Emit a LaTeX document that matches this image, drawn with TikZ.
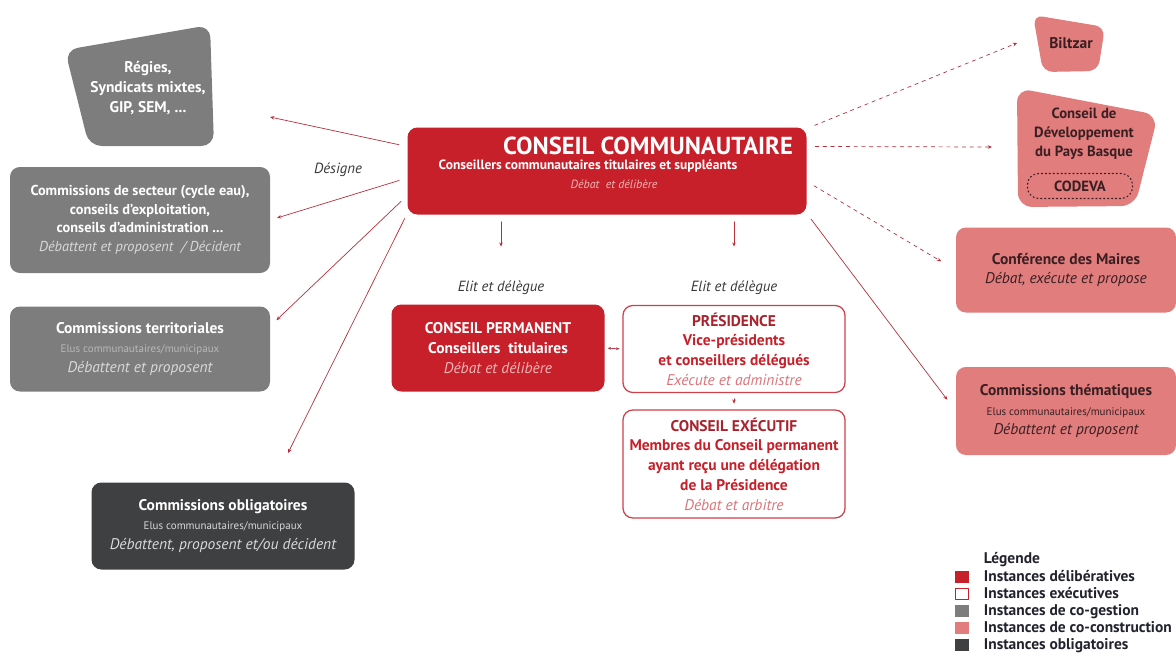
\documentclass[tikz,border=0pt]{standalone}
\usepackage{fontspec}
\setmainfont{PT Sans}
\usetikzlibrary{arrows.meta}
\definecolor{rouge}{HTML}{C7202A}
\definecolor{rougefonce}{HTML}{A8232D}
\definecolor{rougeclair}{HTML}{DB7479}
\definecolor{gris}{HTML}{7D7D7D}
\definecolor{grisclair}{HTML}{D9D9D9}
\definecolor{grisfonce}{HTML}{3F4041}
\definecolor{rose}{HTML}{E17D7D}
\definecolor{brun}{HTML}{3A1F22}
\definecolor{trait}{HTML}{B5303C}
\definecolor{encre}{HTML}{22222E}
\newcommand{\ital}[1]{{\mdseries\itshape #1}}
\newcommand{\petit}{\fontsize{7.8}{10}\selectfont\mdseries}
\begin{document}
\begin{tikzpicture}[x=0.025cm, y=-0.025cm, line join=round, line cap=round,
    font=\fontsize{11}{14}\selectfont\bfseries,
    wh/.style 2 args={minimum width=#1*0.025cm, minimum height=#2*0.025cm},
    boite/.style={rounded corners=7pt, inner sep=2pt, align=center},
    cogestion/.style={boite, fill=gris, text=white},
    coconstr/.style={boite, fill=rose, text=brun},
    delib/.style={boite, fill=rouge, text=white},
    execu/.style={boite, draw=rouge!85!white, line width=0.9pt, fill=white, text=rouge},
    lien/.style={draw=trait, line width=0.5pt, -{Stealth[length=3pt,width=2.5pt]}},
    tirets/.style={lien, dash pattern=on 2.5pt off 3pt},
    etiquette/.style={text=black!78, font=\fontsize{10.5}{12}\selectfont\itshape},
    legende/.style={anchor=west, text=encre, text height=1.6ex, text depth=0.4ex}]
\useasboundingbox (0,0) rectangle (1176,659);
% instances de co-gestion (gauche)
\fill[gris, rounded corners=9pt] (65,50) -- (210,25) -- (214,146) -- (89,146) -- cycle;
\node (regies) at (148,88) [text=white, align=center] {Régies,\\ Syndicats mixtes,\\ GIP, SEM, ...};
\node (secteur) at (140,220) [cogestion, wh={260}{106}, font=\fontsize{10.2}{13.2}\selectfont\bfseries] {Commissions de secteur (cycle eau),\\ conseils d’exploitation,\\ conseils d’administration ...\\ \ital{\textcolor{grisclair}{Débattent et proposent \ / Décident}}};
\node (territ) at (140,349) [cogestion, wh={260}{85}] {Commissions territoriales\\ {\petit\textcolor{gris!55!white}{Elus communautaires/municipaux}}\\ \ital{\textcolor{grisclair}{Débattent et proposent}}};
\node (oblig) at (223,526) [boite, fill=grisfonce, text=white, wh={263}{87}] {Commissions obligatoires\\ {\petit\textcolor{grisclair}{Elus communautaires/municipaux}}\\ \ital{\textcolor{grisclair}{Débattent, proposent et/ou décident}}};
% instances délibératives
\node (cc) at (607,171) [delib, wh={399}{87}] {};
\node (cc-titre) at (648,146) [text=white, font=\fontsize{17.5}{20}\selectfont\bfseries] {CONSEIL COMMUNAUTAIRE};
\node (cc-sous) at (588,166) [text=white, font=\fontsize{9.6}{11}\selectfont\bfseries] {Conseillers communautaires titulaires et suppléants};
\node (cc-role) at (614,184) [text=rose!55!white, font=\fontsize{8.5}{10}\selectfont\itshape] {Débat \ et délibère};
\node (perm) at (498,348) [delib, wh={213}{87}] {CONSEIL PERMANENT\\ Conseillers \ titulaires\\ \ital{\textcolor{rose!55!white}{Débat et délibère}}};
% instances exécutives
\node (pres) at (734,349) [execu, wh={222}{87}] {\textcolor{rougefonce}{PRÉSIDENCE}\\ Vice-présidents\\ et conseillers délégués\\ \ital{\textcolor{rougeclair}{Exécute et administre}}};
\node (conexec) at (734,464) [execu, wh={222}{108}] {\textcolor{rougefonce}{CONSEIL EXÉCUTIF}\\ Membres du Conseil permanent\\ ayant reçu une délégation\\ de la Présidence\\ \ital{\textcolor{rougeclair}{Débat et arbitre}}};
% instances de co-construction (droite)
\fill[rose, rounded corners=7pt] (1033,15) -- (1105,27) -- (1098,71) -- (1043,72) -- cycle;
\node (biltzar) at (1071,43) [text=brun] {Biltzar};
\fill[rose, rounded corners=10pt] (1017,88) -- (1158,115) -- (1135,206) -- (1018,207) -- cycle;
\node (codev) at (1084,134) [text=brun, align=center, font=\fontsize{10.5}{13.6}\selectfont\bfseries] {Conseil de\\ Développement\\ du Pays Basque};
\node (codeva) at (1080,186) [draw=brun, dotted, line width=0.8pt, rounded corners=8pt, wh={105}{25}, text=brun, font=\fontsize{10.5}{12}\selectfont\bfseries] {CODEVA};
\node (conf) at (1066,270) [coconstr, wh={220}{85}] {Conférence des Maires\\ \ital{Débat, exécute et propose}};
\node (them) at (1066,411) [coconstr, wh={220}{88}] {Commissions thématiques\\ {\petit Elus communautaires/municipaux}\\ \ital{Débattent et proposent}};
% étiquettes
\node (designe) at (338,170) [etiquette] {Désigne};
\node (elit1) at (501,288) [etiquette] {Elit et délègue};
\node (elit2) at (734,288) [etiquette] {Elit et délègue};
% liens
\coordinate (regies-p) at (270,117);
\coordinate (oblig-p) at (288,453);
\coordinate (biltzar-p) at (1017,43);
\coordinate (codev-p) at (992,147);
\draw[lien, shorten <=6pt] (cc.173) -- (regies-p);
\draw[lien, shorten <=6pt, shorten >=5pt] (cc.182) -- (secteur.east);
\draw[lien, shorten <=6pt, shorten >=6pt] (cc.187) -- (territ.10);
\draw[lien, shorten <=4pt] (cc.192) -- (oblig-p);
\draw[tirets, shorten <=6pt] (cc.12) -- (biltzar-p);
\draw[tirets, shorten <=6pt] (cc.7) -- (codev-p);
\draw[tirets, shorten <=6pt, shorten >=12pt] (cc.-3) -- (conf.west);
\draw[lien, shorten <=5pt, shorten >=10pt] (cc.-12) -- (them.west);
\draw[lien, shorten <=5pt, shorten >=21pt] (cc.south -| elit1) -- (elit1);
\draw[lien, shorten <=5pt, shorten >=21pt] (cc.south -| elit2) -- (elit2);
\draw[lien, {Stealth[length=2.5pt,width=2pt]}-{Stealth[length=2.5pt,width=2pt]}, shorten <=2pt, shorten >=2pt] (perm.east) -- (pres.west);
\draw[lien, shorten <=4pt, shorten >=4pt] (pres.south) -- (conexec.north);
% légende
\node (leg) at (979,559) [legende] {Légende};
\node (sq1) at (962,577) [fill=rouge, wh={14}{12}, inner sep=0pt] {};
\node (sq2) at (962,594) [draw=rouge, fill=white, line width=0.7pt, wh={13}{11}, inner sep=0pt] {};
\node (sq3) at (962,611) [fill=gris, wh={14}{12}, inner sep=0pt] {};
\node (sq4) at (962,628) [fill=rose, wh={14}{12}, inner sep=0pt] {};
\node (sq5) at (962,645) [fill=grisfonce, wh={14}{12}, inner sep=0pt] {};
\node (leg1) at (979,577) [legende] {Instances délibératives};
\node (leg2) at (979,594) [legende] {Instances exécutives};
\node (leg3) at (979,611) [legende] {Instances de co-gestion};
\node (leg4) at (979,628) [legende] {Instances de co-construction};
\node (leg5) at (979,645) [legende] {Instances obligatoires};
\end{tikzpicture}
\end{document}
